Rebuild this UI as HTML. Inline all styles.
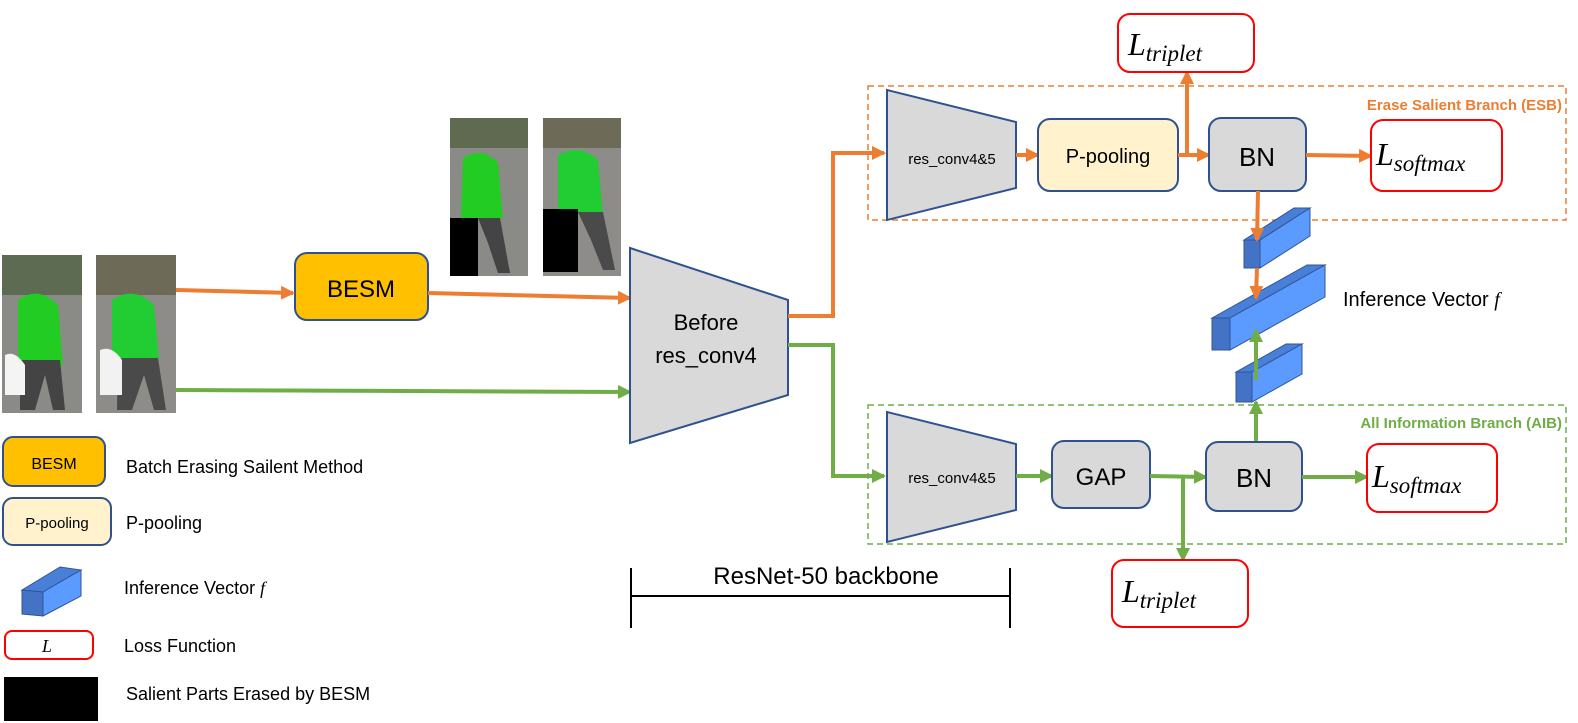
<!DOCTYPE html>
<html><head><meta charset="utf-8"><style>
html,body{margin:0;padding:0;background:#fff;}
svg{display:block;font-family:"Liberation Sans",sans-serif;}
</style></head><body>
<svg width="1578" height="723" viewBox="0 0 1578 723" xmlns="http://www.w3.org/2000/svg">
<defs>
<marker id="ao" markerWidth="14" markerHeight="14" refX="12" refY="7" orient="auto" markerUnits="userSpaceOnUse"><path d="M0,0 L14,7 L0,14 z" fill="#ED7D31"/></marker>
<marker id="ag" markerWidth="14" markerHeight="14" refX="12" refY="7" orient="auto" markerUnits="userSpaceOnUse"><path d="M0,0 L14,7 L0,14 z" fill="#70AD47"/></marker>
</defs>

<g>
<rect x="2" y="255" width="80" height="158" fill="#8a8a86"/>
<path d="M2,255 h80 v40 h-80z" fill="#5d6b52"/>
<path d="M18,300 q20,-15 40,5 l5,60 h-45z" fill="#22cc22"/>
<path d="M20,360 h40 l5,50 h-12 l-8,-35 l-10,35 h-15z" fill="#444"/>
<path d="M5,355 q10,-5 20,10 v30 h-20z" fill="#f4f4f4"/>
<rect x="96" y="255" width="80" height="158" fill="#8e8c88"/>
<path d="M96,255 h80 v40 h-80z" fill="#6d6a58"/>
<path d="M112,300 q22,-15 42,5 l5,55 h-47z" fill="#22cc33"/>
<path d="M118,358 h40 l8,52 h-12 l-10,-35 l-12,35 h-15z" fill="#4a4a4a"/>
<path d="M100,350 q12,-5 22,10 v35 h-22z" fill="#f2f2f2"/>

<rect x="450" y="118" width="78" height="158" fill="#8a8a86"/>
<path d="M450,118 h78 v30 h-78z" fill="#5f6a50"/>
<path d="M463,158 q20,-12 35,5 l5,55 h-42z" fill="#22cc22"/>
<path d="M478,218 h22 l10,55 h-12 l-10,-30z" fill="#444"/>
<rect x="450" y="218" width="28" height="58" fill="#000"/>
<rect x="543" y="118" width="78" height="158" fill="#8e8c88"/>
<path d="M543,118 h78 v30 h-78z" fill="#6d6a58"/>
<path d="M558,155 q22,-12 40,5 l5,55 h-45z" fill="#22cc33"/>
<path d="M578,212 h25 l12,58 h-12 l-12,-30z" fill="#4a4a4a"/>
<rect x="543" y="209" width="35" height="63" fill="#000"/>
</g>

<rect x="295" y="253" width="133" height="67" rx="12" fill="#FFC000" stroke="#2F528F" stroke-width="2"/>
<text x="361" y="297" font-size="24" text-anchor="middle">BESM</text>

<line x1="176" y1="290" x2="293" y2="293" stroke="#ED7D31" stroke-width="4" marker-end="url(#ao)"/>
<line x1="428" y1="293" x2="630" y2="298" stroke="#ED7D31" stroke-width="4" marker-end="url(#ao)"/>
<line x1="176" y1="390" x2="630" y2="392" stroke="#70AD47" stroke-width="4" marker-end="url(#ag)"/>

<polygon points="630,248 788,300 788,395 630,443" fill="#D9D9D9" stroke="#2F528F" stroke-width="2"/>
<text x="706" y="330" font-size="22" text-anchor="middle">Before</text>
<text x="706" y="363" font-size="22" text-anchor="middle">res_conv4</text>

<polyline points="788,316 833,316 833,153 884,153" fill="none" stroke="#ED7D31" stroke-width="4" marker-end="url(#ao)"/>
<polyline points="788,345 833,345 833,476 884,476" fill="none" stroke="#70AD47" stroke-width="4" marker-end="url(#ag)"/>

<rect x="868" y="86" width="698" height="134" fill="none" stroke="#ED7D31" stroke-width="1.5" stroke-dasharray="6,4"/>
<text x="1562" y="110" font-size="15" font-weight="bold" fill="#ED7D31" text-anchor="end">Erase Salient Branch (ESB)</text>
<polygon points="887,90 1016,122 1016,188 887,220" fill="#D9D9D9" stroke="#2F528F" stroke-width="2"/>
<text x="952" y="164" font-size="15" text-anchor="middle">res_conv4&amp;5</text>
<line x1="1016" y1="155" x2="1038" y2="155" stroke="#ED7D31" stroke-width="4" marker-end="url(#ao)"/>
<rect x="1038" y="119" width="140" height="72" rx="12" fill="#FFF2CC" stroke="#2F528F" stroke-width="2"/>
<text x="1108" y="163" font-size="20" text-anchor="middle">P-pooling</text>
<line x1="1178" y1="155" x2="1209" y2="155" stroke="#ED7D31" stroke-width="4" marker-end="url(#ao)"/>
<line x1="1187" y1="155" x2="1187" y2="72" stroke="#ED7D31" stroke-width="4" marker-end="url(#ao)"/>
<rect x="1209" y="118" width="97" height="73" rx="12" fill="#D9D9D9" stroke="#2F528F" stroke-width="2"/>
<text x="1257" y="166" font-size="26" text-anchor="middle">BN</text>
<line x1="1306" y1="155" x2="1371" y2="156" stroke="#ED7D31" stroke-width="4" marker-end="url(#ao)"/>
<rect x="1371" y="120" width="131" height="71" rx="12" fill="#fff" stroke="#FF0000" stroke-width="2"/>
<text x="1376" y="165" font-size="32" font-style="italic" font-family="Liberation Serif,serif">L<tspan font-size="23" dy="6">softmax</tspan></text>

<rect x="1118" y="14" width="136" height="58" rx="12" fill="#fff" stroke="#FF0000" stroke-width="2"/>
<text x="1128" y="55" font-size="32" font-style="italic" font-family="Liberation Serif,serif">L<tspan font-size="23" dy="6">triplet</tspan></text>

<g stroke="#2F5597" stroke-width="1">
<polygon points="1244,240 1294,208 1310,208 1260,240" fill="#4A7FD8"/>
<polygon points="1260,240 1310,208 1310,236 1260,268" fill="#5B9BFF"/>
<rect x="1244" y="240" width="16" height="28" fill="#4472C4"/>
<polygon points="1212,318 1307,265 1325,265 1230,318" fill="#4A7FD8"/>
<polygon points="1230,318 1325,265 1325,297 1230,350" fill="#5B9BFF"/>
<rect x="1212" y="318" width="18" height="32" fill="#4472C4"/>
<polygon points="1236,372 1286,344 1302,344 1252,372" fill="#4A7FD8"/>
<polygon points="1252,372 1302,344 1302,374 1252,402" fill="#5B9BFF"/>
<rect x="1236" y="372" width="16" height="30" fill="#4472C4"/>
</g>
<line x1="1258" y1="191" x2="1257" y2="240" stroke="#ED7D31" stroke-width="4" marker-end="url(#ao)"/>
<line x1="1257" y1="268" x2="1256" y2="298" stroke="#ED7D31" stroke-width="4" marker-end="url(#ao)"/>
<line x1="1256" y1="442" x2="1256" y2="402" stroke="#70AD47" stroke-width="4" marker-end="url(#ag)"/>
<line x1="1256" y1="380" x2="1256" y2="330" stroke="#70AD47" stroke-width="4" marker-end="url(#ag)"/>
<text x="1343" y="306" font-size="20">Inference Vector <tspan font-style="italic" font-family="Liberation Serif,serif">f</tspan></text>

<rect x="868" y="405" width="698" height="139" fill="none" stroke="#70AD47" stroke-width="1.5" stroke-dasharray="6,4"/>
<text x="1562" y="428" font-size="15" font-weight="bold" fill="#70AD47" text-anchor="end">All Information Branch (AIB)</text>
<polygon points="887,412 1016,444 1016,510 887,542" fill="#D9D9D9" stroke="#2F528F" stroke-width="2"/>
<text x="952" y="483" font-size="15" text-anchor="middle">res_conv4&amp;5</text>
<line x1="1016" y1="476" x2="1052" y2="476" stroke="#70AD47" stroke-width="4" marker-end="url(#ag)"/>
<rect x="1052" y="441" width="98" height="67" rx="12" fill="#D9D9D9" stroke="#2F528F" stroke-width="2"/>
<text x="1101" y="485" font-size="24" text-anchor="middle">GAP</text>
<line x1="1150" y1="476" x2="1206" y2="477" stroke="#70AD47" stroke-width="4" marker-end="url(#ag)"/>
<line x1="1183" y1="476" x2="1183" y2="560" stroke="#70AD47" stroke-width="4" marker-end="url(#ag)"/>
<rect x="1206" y="442" width="96" height="69" rx="12" fill="#D9D9D9" stroke="#2F528F" stroke-width="2"/>
<text x="1254" y="487" font-size="26" text-anchor="middle">BN</text>
<line x1="1302" y1="477" x2="1367" y2="477" stroke="#70AD47" stroke-width="4" marker-end="url(#ag)"/>
<rect x="1367" y="444" width="130" height="68" rx="12" fill="#fff" stroke="#FF0000" stroke-width="2"/>
<text x="1372" y="487" font-size="32" font-style="italic" font-family="Liberation Serif,serif">L<tspan font-size="23" dy="6">softmax</tspan></text>
<rect x="1112" y="560" width="136" height="67" rx="12" fill="#fff" stroke="#FF0000" stroke-width="2"/>
<text x="1122" y="602" font-size="32" font-style="italic" font-family="Liberation Serif,serif">L<tspan font-size="23" dy="6">triplet</tspan></text>

<line x1="631" y1="596" x2="1010" y2="596" stroke="#000" stroke-width="2"/>
<line x1="631" y1="568" x2="631" y2="628" stroke="#000" stroke-width="2"/>
<line x1="1010" y1="568" x2="1010" y2="628" stroke="#000" stroke-width="2"/>
<text x="826" y="584" font-size="24" text-anchor="middle">ResNet-50 backbone</text>

<rect x="3" y="437" width="102" height="49" rx="10" fill="#FFC000" stroke="#2F528F" stroke-width="2"/>
<text x="54" y="469" font-size="16" text-anchor="middle">BESM</text>
<text x="126" y="473" font-size="18">Batch Erasing Sailent Method</text>
<rect x="3" y="498" width="108" height="47" rx="10" fill="#FFF2CC" stroke="#2F528F" stroke-width="2"/>
<text x="57" y="528" font-size="15" text-anchor="middle">P-pooling</text>
<text x="126" y="529" font-size="18">P-pooling</text>
<g stroke="#2F5597" stroke-width="1">
<polygon points="22,590 60,567 81,570 43,592" fill="#4A7FD8"/>
<polygon points="43,592 81,570 81,596 43,616" fill="#5B9BFF"/>
<polygon points="22,590 43,592 43,616 22,614" fill="#4472C4"/>
</g>
<text x="124" y="594" font-size="18">Inference Vector <tspan font-style="italic" font-family="Liberation Serif,serif">f</tspan></text>
<rect x="5" y="631" width="88" height="28" rx="7" fill="#fff" stroke="#FF0000" stroke-width="2"/>
<text x="47" y="652" font-size="18" font-style="italic" font-family="Liberation Serif,serif" text-anchor="middle">L</text>
<text x="124" y="652" font-size="18">Loss Function</text>
<rect x="4" y="677" width="94" height="44" fill="#000"/>
<text x="126" y="700" font-size="18">Salient Parts Erased by BESM</text>
</svg>
</body></html>
